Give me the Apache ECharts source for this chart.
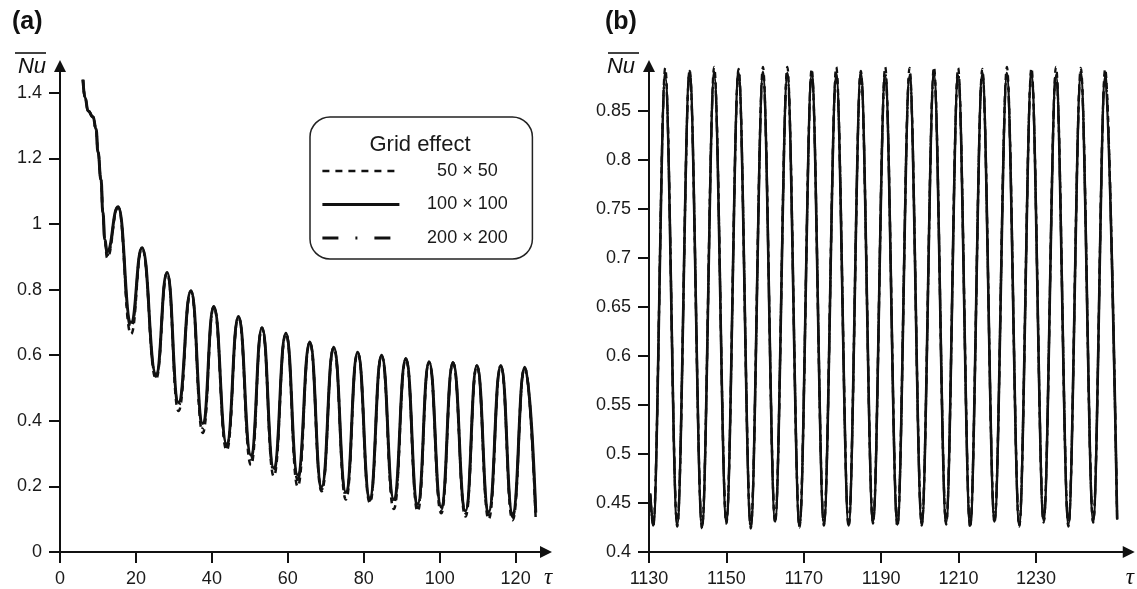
<!DOCTYPE html>
<html><head><meta charset="utf-8">
<script src="https://cdn.jsdelivr.net/npm/echarts@6/dist/echarts.min.js"></script>
<style>html,body{margin:0;padding:0;background:#fff}#c{width:1137px;height:589px}</style>
</head><body><div id="c"></div>
<script>
// ---- data ----
const seriesNames = ['50 × 50', '100 × 100', '200 × 200'];

// panel (a): τ from ~6 to ~125
const tauA = [6.05, 6.6, 7.4, 8.7, 9.5, 10.0, 10.8, 11.3, 11.8, 12.4,
  15.3, 18.7, 21.6, 25.3, 28.2, 31.2, 34.5, 37.6, 40.5, 43.9,
  47.0, 50.3, 53.2, 56.3, 59.5, 62.6, 65.8, 68.9, 72.1, 75.3,
  78.4, 81.6, 84.7, 87.9, 91.1, 94.2, 97.2, 100.4, 103.5, 106.8,
  109.8, 112.9, 116.1, 119.2, 122.4, 125.3];
const nuA100 = [1.44, 1.385, 1.345, 1.327, 1.29, 1.22, 1.135, 1.035, 0.953, 0.916,
  1.053, 0.70, 0.928, 0.542, 0.852, 0.456, 0.797, 0.392, 0.749, 0.329,
  0.718, 0.295, 0.684, 0.256, 0.667, 0.235, 0.64, 0.198, 0.624, 0.182,
  0.609, 0.164, 0.60, 0.161, 0.59, 0.146, 0.58, 0.137, 0.578, 0.125,
  0.569, 0.122, 0.569, 0.116, 0.563, 0.12];
const nuA50 = [1.44, 1.385, 1.345, 1.327, 1.29, 1.22, 1.135, 1.035, 0.95, 0.897,
  1.05, 0.665, 0.925, 0.528, 0.85, 0.43, 0.795, 0.363, 0.746, 0.31,
  0.716, 0.265, 0.682, 0.231, 0.665, 0.20, 0.638, 0.185, 0.622, 0.16,
  0.607, 0.15, 0.598, 0.131, 0.588, 0.124, 0.578, 0.118, 0.576, 0.108,
  0.567, 0.10, 0.567, 0.097, 0.561, 0.094];
const nuA200 = [1.44, 1.385, 1.345, 1.327, 1.29, 1.22, 1.135, 1.035, 0.952, 0.905,
  1.052, 0.685, 0.927, 0.535, 0.851, 0.445, 0.796, 0.378, 0.748, 0.32,
  0.717, 0.282, 0.683, 0.245, 0.666, 0.22, 0.639, 0.19, 0.623, 0.172,
  0.608, 0.157, 0.599, 0.148, 0.589, 0.135, 0.579, 0.128, 0.577, 0.118,
  0.568, 0.112, 0.568, 0.107, 0.562, 0.108];

// panel (b): τ from 1130 to ~1251
const tauB = [1130.3, 1131.1, 1134.2, 1137.3, 1140.5, 1143.7, 1146.85, 1150.0, 1153.15, 1156.3,
  1159.45, 1162.6, 1165.75, 1168.9, 1172.05, 1175.2, 1178.4, 1181.6, 1184.75, 1187.9,
  1191.05, 1194.2, 1197.35, 1200.5, 1203.65, 1206.8, 1209.9, 1213.0, 1216.15, 1219.3,
  1222.5, 1225.7, 1228.85, 1232.0, 1235.2, 1238.4, 1241.6, 1244.8, 1247.9, 1251.0];
const nuB100 = [0.46, 0.428, 0.885, 0.428, 0.890, 0.426, 0.886, 0.431, 0.889, 0.426,
  0.887, 0.432, 0.886, 0.427, 0.887, 0.429, 0.886, 0.428, 0.889, 0.431,
  0.886, 0.428, 0.886, 0.429, 0.887, 0.430, 0.886, 0.427, 0.888, 0.432,
  0.886, 0.428, 0.887, 0.432, 0.886, 0.428, 0.887, 0.432, 0.885, 0.434];
const nuB50 = [0.458, 0.426, 0.894, 0.426, 0.892, 0.424, 0.895, 0.429, 0.893, 0.424,
  0.895, 0.430, 0.895, 0.425, 0.893, 0.427, 0.895, 0.426, 0.891, 0.429,
  0.895, 0.426, 0.894, 0.427, 0.895, 0.428, 0.894, 0.425, 0.893, 0.430,
  0.895, 0.426, 0.894, 0.430, 0.895, 0.426, 0.894, 0.430, 0.893, 0.432];
const nuB200 = [0.459, 0.427, 0.889, 0.427, 0.891, 0.425, 0.890, 0.430, 0.891, 0.425,
  0.890, 0.431, 0.889, 0.426, 0.890, 0.428, 0.889, 0.427, 0.890, 0.430,
  0.889, 0.427, 0.889, 0.428, 0.890, 0.429, 0.889, 0.426, 0.890, 0.431,
  0.889, 0.427, 0.890, 0.431, 0.889, 0.427, 0.890, 0.431, 0.888, 0.433];

const ticksAx = [0, 20, 40, 60, 80, 100, 120];
const ticksAy = [0, 0.2, 0.4, 0.6, 0.8, 1, 1.2, 1.4];
const ticksBx = [1130, 1150, 1170, 1190, 1210, 1230];
const ticksBy = [0.4, 0.45, 0.5, 0.55, 0.6, 0.65, 0.7, 0.75, 0.8, 0.85];

// ---- chart ----
const INK = '#111';
const FONT = '"Liberation Sans", Arial, sans-serif';
const pairs = (t, v) => t.map((x, i) => [x, v[i]]);
const plain = v => String(v);

function xAxisCfg(grid, min, max, ticks, gap) {
  return {
    type: 'value', gridIndex: grid, min: min, max: max,
    axisLine: { show: true, onZero: false, symbol: ['none', 'triangle'], symbolSize: [12, 12],
      lineStyle: { color: INK, width: 2 } },
    axisTick: { show: true, length: 11, customValues: ticks, lineStyle: { color: INK, width: 2 } },
    axisLabel: { customValues: ticks, formatter: plain, margin: 18, fontSize: 18, color: '#1a1a1a', fontFamily: FONT },
    splitLine: { show: false },
    name: 'τ', nameLocation: 'end', nameGap: gap,
    nameTextStyle: { fontFamily: '"Liberation Serif", "DejaVu Serif", serif', fontStyle: 'italic',
      fontSize: 23, color: INK, verticalAlign: 'top', align: 'left', padding: [14, 0, 0, 0] }
  };
}
function yAxisCfg(grid, min, max, ticks) {
  return {
    type: 'value', gridIndex: grid, min: min, max: max,
    axisLine: { show: true, onZero: false, symbol: ['none', 'triangle'], symbolSize: [12, 12],
      lineStyle: { color: INK, width: 2 } },
    axisTick: { show: true, length: 11, customValues: ticks, lineStyle: { color: INK, width: 2 } },
    axisLabel: { customValues: ticks, formatter: plain, margin: 18, fontSize: 18, color: '#1a1a1a', fontFamily: FONT },
    splitLine: { show: false },
    name: 'Nu', nameLocation: 'end', nameGap: -1,
    nameTextStyle: { fontFamily: FONT, fontStyle: 'italic', fontSize: 22, color: INK,
      align: 'right', verticalAlign: 'middle', padding: [0, 14, 0, 0] }
  };
}
function lineSeries(name, xi, data, style, z, smooth) {
  return {
    name: name, type: 'line', xAxisIndex: xi, yAxisIndex: xi, data: data,
    symbol: 'none', showSymbol: false, smooth: smooth, smoothMonotone: 'x', z: z, silent: true,
    itemStyle: { color: INK },
    lineStyle: Object.assign({ color: INK }, style)
  };
}

const styleA = [{ width: 2.5, type: [6, 5] }, { width: 3, type: 'solid' }, { width: 2.5, type: [14, 6, 2, 6] }];
const styleB = [{ width: 2.3, type: [6, 5] }, { width: 2.6, type: 'solid' }, { width: 2.3, type: [14, 6, 2, 6] }];

const chart = echarts.init(document.getElementById('c'), null, { renderer: 'canvas' });
chart.setOption({
  animation: false,
  backgroundColor: '#fff',
  textStyle: { fontFamily: FONT },
  title: [
    { text: '(a)', left: 12, top: 10, padding: 0, textStyle: { fontSize: 25, fontWeight: 'bold', color: INK, fontFamily: FONT } },
    { text: '(b)', left: 605, top: 10, padding: 0, textStyle: { fontSize: 25, fontWeight: 'bold', color: INK, fontFamily: FONT } }
  ],
  grid: [
    { left: 60, top: 66, width: 486, height: 487 },
    { left: 649, top: 66, width: 480, height: 487 }
  ],
  xAxis: [xAxisCfg(0, 0, 128, ticksAx, -2), xAxisCfg(1, 1130, 1254, ticksBx, -3)],
  yAxis: [yAxisCfg(0, 0, 1.482, ticksAy), yAxisCfg(1, 0.4, 0.896, ticksBy)],
  legend: {
    left: 310, top: 117, orient: 'vertical',
    padding: [45, 2, 12, 11],
    itemWidth: 77, itemHeight: 20, itemGap: 15.5,
    borderColor: '#222', borderWidth: 1.5, borderRadius: 20,
    selectedMode: false,
    itemStyle: { opacity: 0, color: 'rgba(0,0,0,0)', borderWidth: 0 },
    formatter: '{c|{name}}',
    textStyle: { rich: { c: { width: 126, align: 'center', fontSize: 18, lineHeight: 20, color: '#1a1a1a', fontFamily: FONT } } },
    data: [
      { name: seriesNames[0], lineStyle: { type: [7, 6], width: 2.6, color: INK } },
      { name: seriesNames[1], lineStyle: { type: 'solid', width: 2.8, color: INK } },
      { name: seriesNames[2], lineStyle: { type: [16, 17, 2, 17], width: 2.8, color: INK } }
    ]
  },
  graphic: [
    { type: 'text', x: 420, y: 145, style: { text: 'Grid effect', align: 'center', verticalAlign: 'middle',
      fontSize: 22, fontFamily: FONT, fill: '#1a1a1a' } },
    { type: 'line', shape: { x1: 15, y1: 53, x2: 46, y2: 53 }, style: { stroke: INK, lineWidth: 1.6 } },
    { type: 'line', shape: { x1: 608, y1: 53, x2: 639, y2: 53 }, style: { stroke: INK, lineWidth: 1.6 } }
  ],
  series: [
    lineSeries(seriesNames[0], 0, pairs(tauA, nuA50), styleA[0], 2, 0.5),
    lineSeries(seriesNames[2], 0, pairs(tauA, nuA200), styleA[2], 3, 0.5),
    lineSeries(seriesNames[1], 0, pairs(tauA, nuA100), styleA[1], 4, 0.5),
    lineSeries(seriesNames[0], 1, pairs(tauB, nuB50), styleB[0], 2, 0.35),
    lineSeries(seriesNames[2], 1, pairs(tauB, nuB200), styleB[2], 3, 0.35),
    lineSeries(seriesNames[1], 1, pairs(tauB, nuB100), styleB[1], 4, 0.35)
  ]
});
</script>
</body></html>
